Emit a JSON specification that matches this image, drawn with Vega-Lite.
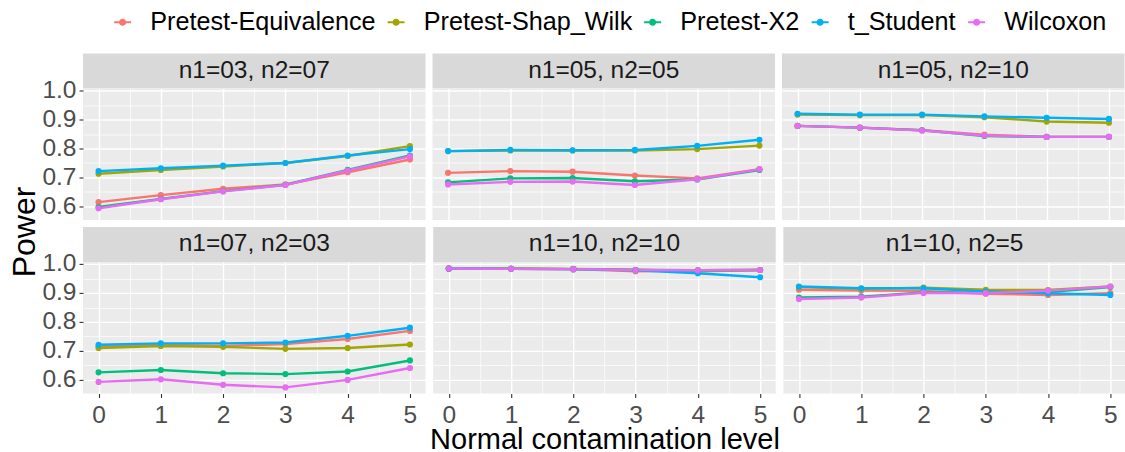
{
"$schema": "https://vega.github.io/schema/vega-lite/v6.json",
"padding": {"left": 8, "top": 9.5, "right": 0, "bottom": 0},
"background": "#ffffff",
"spacing": 6.4,
"title": {"text": "Power", "orient": "left", "anchor": "middle", "fontSize": 32, "fontWeight": "normal", "font": "Liberation Sans", "color": "#000000", "offset": 0},
"config": {
  "font": "Liberation Sans",
  "view": {"fill": "#ebebeb", "stroke": null},
  "axis": {"domain": false, "grid": true, "gridColor": "#ffffff", "tickColor": "#333333", "tickWidth": 1.1, "tickSize": 4, "labelFontSize": 24.5, "labelColor": "#4d4d4d", "labelFont": "Liberation Sans", "titleFont": "Liberation Sans", "titleFontWeight": "normal", "titleColor": "#000000", "titleFontSize": 29}
},
"datasets": {"power": [
{"panel":"n1=03, n2=07","test":"Pretest-Equivalence","level":0,"power":0.615},{"panel":"n1=03, n2=07","test":"Pretest-Equivalence","level":1,"power":0.639},{"panel":"n1=03, n2=07","test":"Pretest-Equivalence","level":2,"power":0.661},{"panel":"n1=03, n2=07","test":"Pretest-Equivalence","level":3,"power":0.676},{"panel":"n1=03, n2=07","test":"Pretest-Equivalence","level":4,"power":0.718},{"panel":"n1=03, n2=07","test":"Pretest-Equivalence","level":5,"power":0.762},
{"panel":"n1=03, n2=07","test":"Pretest-Shap_Wilk","level":0,"power":0.713},{"panel":"n1=03, n2=07","test":"Pretest-Shap_Wilk","level":1,"power":0.726},{"panel":"n1=03, n2=07","test":"Pretest-Shap_Wilk","level":2,"power":0.738},{"panel":"n1=03, n2=07","test":"Pretest-Shap_Wilk","level":3,"power":0.750},{"panel":"n1=03, n2=07","test":"Pretest-Shap_Wilk","level":4,"power":0.774},{"panel":"n1=03, n2=07","test":"Pretest-Shap_Wilk","level":5,"power":0.808},
{"panel":"n1=03, n2=07","test":"Pretest-X2","level":0,"power":0.598},{"panel":"n1=03, n2=07","test":"Pretest-X2","level":1,"power":0.626},{"panel":"n1=03, n2=07","test":"Pretest-X2","level":2,"power":0.653},{"panel":"n1=03, n2=07","test":"Pretest-X2","level":3,"power":0.675},{"panel":"n1=03, n2=07","test":"Pretest-X2","level":4,"power":0.726},{"panel":"n1=03, n2=07","test":"Pretest-X2","level":5,"power":0.776},
{"panel":"n1=03, n2=07","test":"t_Student","level":0,"power":0.722},{"panel":"n1=03, n2=07","test":"t_Student","level":1,"power":0.732},{"panel":"n1=03, n2=07","test":"t_Student","level":2,"power":0.741},{"panel":"n1=03, n2=07","test":"t_Student","level":3,"power":0.750},{"panel":"n1=03, n2=07","test":"t_Student","level":4,"power":0.776},{"panel":"n1=03, n2=07","test":"t_Student","level":5,"power":0.798},
{"panel":"n1=03, n2=07","test":"Wilcoxon","level":0,"power":0.594},{"panel":"n1=03, n2=07","test":"Wilcoxon","level":1,"power":0.625},{"panel":"n1=03, n2=07","test":"Wilcoxon","level":2,"power":0.652},{"panel":"n1=03, n2=07","test":"Wilcoxon","level":3,"power":0.674},{"panel":"n1=03, n2=07","test":"Wilcoxon","level":4,"power":0.724},{"panel":"n1=03, n2=07","test":"Wilcoxon","level":5,"power":0.773},

{"panel":"n1=05, n2=05","test":"Pretest-Equivalence","level":0,"power":0.716},{"panel":"n1=05, n2=05","test":"Pretest-Equivalence","level":1,"power":0.722},{"panel":"n1=05, n2=05","test":"Pretest-Equivalence","level":2,"power":0.720},{"panel":"n1=05, n2=05","test":"Pretest-Equivalence","level":3,"power":0.707},{"panel":"n1=05, n2=05","test":"Pretest-Equivalence","level":4,"power":0.697},{"panel":"n1=05, n2=05","test":"Pretest-Equivalence","level":5,"power":0.729},
{"panel":"n1=05, n2=05","test":"Pretest-Shap_Wilk","level":0,"power":0.791},{"panel":"n1=05, n2=05","test":"Pretest-Shap_Wilk","level":1,"power":0.793},{"panel":"n1=05, n2=05","test":"Pretest-Shap_Wilk","level":2,"power":0.793},{"panel":"n1=05, n2=05","test":"Pretest-Shap_Wilk","level":3,"power":0.793},{"panel":"n1=05, n2=05","test":"Pretest-Shap_Wilk","level":4,"power":0.798},{"panel":"n1=05, n2=05","test":"Pretest-Shap_Wilk","level":5,"power":0.810},
{"panel":"n1=05, n2=05","test":"Pretest-X2","level":0,"power":0.683},{"panel":"n1=05, n2=05","test":"Pretest-X2","level":1,"power":0.697},{"panel":"n1=05, n2=05","test":"Pretest-X2","level":2,"power":0.698},{"panel":"n1=05, n2=05","test":"Pretest-X2","level":3,"power":0.687},{"panel":"n1=05, n2=05","test":"Pretest-X2","level":4,"power":0.693},{"panel":"n1=05, n2=05","test":"Pretest-X2","level":5,"power":0.726},
{"panel":"n1=05, n2=05","test":"t_Student","level":0,"power":0.791},{"panel":"n1=05, n2=05","test":"t_Student","level":1,"power":0.795},{"panel":"n1=05, n2=05","test":"t_Student","level":2,"power":0.794},{"panel":"n1=05, n2=05","test":"t_Student","level":3,"power":0.795},{"panel":"n1=05, n2=05","test":"t_Student","level":4,"power":0.809},{"panel":"n1=05, n2=05","test":"t_Student","level":5,"power":0.830},
{"panel":"n1=05, n2=05","test":"Wilcoxon","level":0,"power":0.676},{"panel":"n1=05, n2=05","test":"Wilcoxon","level":1,"power":0.685},{"panel":"n1=05, n2=05","test":"Wilcoxon","level":2,"power":0.686},{"panel":"n1=05, n2=05","test":"Wilcoxon","level":3,"power":0.674},{"panel":"n1=05, n2=05","test":"Wilcoxon","level":4,"power":0.694},{"panel":"n1=05, n2=05","test":"Wilcoxon","level":5,"power":0.728},

{"panel":"n1=05, n2=10","test":"Pretest-Equivalence","level":0,"power":0.878},{"panel":"n1=05, n2=10","test":"Pretest-Equivalence","level":1,"power":0.872},{"panel":"n1=05, n2=10","test":"Pretest-Equivalence","level":2,"power":0.863},{"panel":"n1=05, n2=10","test":"Pretest-Equivalence","level":3,"power":0.848},{"panel":"n1=05, n2=10","test":"Pretest-Equivalence","level":4,"power":0.840},{"panel":"n1=05, n2=10","test":"Pretest-Equivalence","level":5,"power":0.840},
{"panel":"n1=05, n2=10","test":"Pretest-Shap_Wilk","level":0,"power":0.917},{"panel":"n1=05, n2=10","test":"Pretest-Shap_Wilk","level":1,"power":0.915},{"panel":"n1=05, n2=10","test":"Pretest-Shap_Wilk","level":2,"power":0.915},{"panel":"n1=05, n2=10","test":"Pretest-Shap_Wilk","level":3,"power":0.908},{"panel":"n1=05, n2=10","test":"Pretest-Shap_Wilk","level":4,"power":0.893},{"panel":"n1=05, n2=10","test":"Pretest-Shap_Wilk","level":5,"power":0.889},
{"panel":"n1=05, n2=10","test":"Pretest-X2","level":0,"power":0.878},{"panel":"n1=05, n2=10","test":"Pretest-X2","level":1,"power":0.872},{"panel":"n1=05, n2=10","test":"Pretest-X2","level":2,"power":0.863},{"panel":"n1=05, n2=10","test":"Pretest-X2","level":3,"power":0.843},{"panel":"n1=05, n2=10","test":"Pretest-X2","level":4,"power":0.840},{"panel":"n1=05, n2=10","test":"Pretest-X2","level":5,"power":0.840},
{"panel":"n1=05, n2=10","test":"t_Student","level":0,"power":0.920},{"panel":"n1=05, n2=10","test":"t_Student","level":1,"power":0.917},{"panel":"n1=05, n2=10","test":"t_Student","level":2,"power":0.917},{"panel":"n1=05, n2=10","test":"t_Student","level":3,"power":0.911},{"panel":"n1=05, n2=10","test":"t_Student","level":4,"power":0.906},{"panel":"n1=05, n2=10","test":"t_Student","level":5,"power":0.902},
{"panel":"n1=05, n2=10","test":"Wilcoxon","level":0,"power":0.878},{"panel":"n1=05, n2=10","test":"Wilcoxon","level":1,"power":0.872},{"panel":"n1=05, n2=10","test":"Wilcoxon","level":2,"power":0.862},{"panel":"n1=05, n2=10","test":"Wilcoxon","level":3,"power":0.845},{"panel":"n1=05, n2=10","test":"Wilcoxon","level":4,"power":0.840},{"panel":"n1=05, n2=10","test":"Wilcoxon","level":5,"power":0.840},

{"panel":"n1=07, n2=03","test":"Pretest-Equivalence","level":0,"power":0.715},{"panel":"n1=07, n2=03","test":"Pretest-Equivalence","level":1,"power":0.721},{"panel":"n1=07, n2=03","test":"Pretest-Equivalence","level":2,"power":0.717},{"panel":"n1=07, n2=03","test":"Pretest-Equivalence","level":3,"power":0.724},{"panel":"n1=07, n2=03","test":"Pretest-Equivalence","level":4,"power":0.741},{"panel":"n1=07, n2=03","test":"Pretest-Equivalence","level":5,"power":0.769},
{"panel":"n1=07, n2=03","test":"Pretest-Shap_Wilk","level":0,"power":0.710},{"panel":"n1=07, n2=03","test":"Pretest-Shap_Wilk","level":1,"power":0.717},{"panel":"n1=07, n2=03","test":"Pretest-Shap_Wilk","level":2,"power":0.714},{"panel":"n1=07, n2=03","test":"Pretest-Shap_Wilk","level":3,"power":0.707},{"panel":"n1=07, n2=03","test":"Pretest-Shap_Wilk","level":4,"power":0.710},{"panel":"n1=07, n2=03","test":"Pretest-Shap_Wilk","level":5,"power":0.722},
{"panel":"n1=07, n2=03","test":"Pretest-X2","level":0,"power":0.626},{"panel":"n1=07, n2=03","test":"Pretest-X2","level":1,"power":0.634},{"panel":"n1=07, n2=03","test":"Pretest-X2","level":2,"power":0.623},{"panel":"n1=07, n2=03","test":"Pretest-X2","level":3,"power":0.620},{"panel":"n1=07, n2=03","test":"Pretest-X2","level":4,"power":0.629},{"panel":"n1=07, n2=03","test":"Pretest-X2","level":5,"power":0.667},
{"panel":"n1=07, n2=03","test":"t_Student","level":0,"power":0.721},{"panel":"n1=07, n2=03","test":"t_Student","level":1,"power":0.726},{"panel":"n1=07, n2=03","test":"t_Student","level":2,"power":0.726},{"panel":"n1=07, n2=03","test":"t_Student","level":3,"power":0.729},{"panel":"n1=07, n2=03","test":"t_Student","level":4,"power":0.752},{"panel":"n1=07, n2=03","test":"t_Student","level":5,"power":0.780},
{"panel":"n1=07, n2=03","test":"Wilcoxon","level":0,"power":0.593},{"panel":"n1=07, n2=03","test":"Wilcoxon","level":1,"power":0.602},{"panel":"n1=07, n2=03","test":"Wilcoxon","level":2,"power":0.583},{"panel":"n1=07, n2=03","test":"Wilcoxon","level":3,"power":0.574},{"panel":"n1=07, n2=03","test":"Wilcoxon","level":4,"power":0.600},{"panel":"n1=07, n2=03","test":"Wilcoxon","level":5,"power":0.641},

{"panel":"n1=10, n2=10","test":"Pretest-Equivalence","level":0,"power":0.984},{"panel":"n1=10, n2=10","test":"Pretest-Equivalence","level":1,"power":0.983},{"panel":"n1=10, n2=10","test":"Pretest-Equivalence","level":2,"power":0.982},{"panel":"n1=10, n2=10","test":"Pretest-Equivalence","level":3,"power":0.975},{"panel":"n1=10, n2=10","test":"Pretest-Equivalence","level":4,"power":0.978},{"panel":"n1=10, n2=10","test":"Pretest-Equivalence","level":5,"power":0.979},
{"panel":"n1=10, n2=10","test":"Pretest-Shap_Wilk","level":0,"power":0.985},{"panel":"n1=10, n2=10","test":"Pretest-Shap_Wilk","level":1,"power":0.984},{"panel":"n1=10, n2=10","test":"Pretest-Shap_Wilk","level":2,"power":0.983},{"panel":"n1=10, n2=10","test":"Pretest-Shap_Wilk","level":3,"power":0.980},{"panel":"n1=10, n2=10","test":"Pretest-Shap_Wilk","level":4,"power":0.975},{"panel":"n1=10, n2=10","test":"Pretest-Shap_Wilk","level":5,"power":0.979},
{"panel":"n1=10, n2=10","test":"Pretest-X2","level":0,"power":0.983},{"panel":"n1=10, n2=10","test":"Pretest-X2","level":1,"power":0.983},{"panel":"n1=10, n2=10","test":"Pretest-X2","level":2,"power":0.982},{"panel":"n1=10, n2=10","test":"Pretest-X2","level":3,"power":0.979},{"panel":"n1=10, n2=10","test":"Pretest-X2","level":4,"power":0.978},{"panel":"n1=10, n2=10","test":"Pretest-X2","level":5,"power":0.979},
{"panel":"n1=10, n2=10","test":"t_Student","level":0,"power":0.984},{"panel":"n1=10, n2=10","test":"t_Student","level":1,"power":0.983},{"panel":"n1=10, n2=10","test":"t_Student","level":2,"power":0.982},{"panel":"n1=10, n2=10","test":"t_Student","level":3,"power":0.978},{"panel":"n1=10, n2=10","test":"t_Student","level":4,"power":0.968},{"panel":"n1=10, n2=10","test":"t_Student","level":5,"power":0.954},
{"panel":"n1=10, n2=10","test":"Wilcoxon","level":0,"power":0.984},{"panel":"n1=10, n2=10","test":"Wilcoxon","level":1,"power":0.983},{"panel":"n1=10, n2=10","test":"Wilcoxon","level":2,"power":0.982},{"panel":"n1=10, n2=10","test":"Wilcoxon","level":3,"power":0.979},{"panel":"n1=10, n2=10","test":"Wilcoxon","level":4,"power":0.978},{"panel":"n1=10, n2=10","test":"Wilcoxon","level":5,"power":0.979},

{"panel":"n1=10, n2=5","test":"Pretest-Equivalence","level":0,"power":0.911},{"panel":"n1=10, n2=5","test":"Pretest-Equivalence","level":1,"power":0.908},{"panel":"n1=10, n2=5","test":"Pretest-Equivalence","level":2,"power":0.907},{"panel":"n1=10, n2=5","test":"Pretest-Equivalence","level":3,"power":0.897},{"panel":"n1=10, n2=5","test":"Pretest-Equivalence","level":4,"power":0.893},{"panel":"n1=10, n2=5","test":"Pretest-Equivalence","level":5,"power":0.899},
{"panel":"n1=10, n2=5","test":"Pretest-Shap_Wilk","level":0,"power":0.920},{"panel":"n1=10, n2=5","test":"Pretest-Shap_Wilk","level":1,"power":0.914},{"panel":"n1=10, n2=5","test":"Pretest-Shap_Wilk","level":2,"power":0.918},{"panel":"n1=10, n2=5","test":"Pretest-Shap_Wilk","level":3,"power":0.911},{"panel":"n1=10, n2=5","test":"Pretest-Shap_Wilk","level":4,"power":0.910},{"panel":"n1=10, n2=5","test":"Pretest-Shap_Wilk","level":5,"power":0.922},
{"panel":"n1=10, n2=5","test":"Pretest-X2","level":0,"power":0.884},{"panel":"n1=10, n2=5","test":"Pretest-X2","level":1,"power":0.887},{"panel":"n1=10, n2=5","test":"Pretest-X2","level":2,"power":0.902},{"panel":"n1=10, n2=5","test":"Pretest-X2","level":3,"power":0.900},{"panel":"n1=10, n2=5","test":"Pretest-X2","level":4,"power":0.903},{"panel":"n1=10, n2=5","test":"Pretest-X2","level":5,"power":0.920},
{"panel":"n1=10, n2=5","test":"t_Student","level":0,"power":0.922},{"panel":"n1=10, n2=5","test":"t_Student","level":1,"power":0.916},{"panel":"n1=10, n2=5","test":"t_Student","level":2,"power":0.916},{"panel":"n1=10, n2=5","test":"t_Student","level":3,"power":0.905},{"panel":"n1=10, n2=5","test":"t_Student","level":4,"power":0.899},{"panel":"n1=10, n2=5","test":"t_Student","level":5,"power":0.893},
{"panel":"n1=10, n2=5","test":"Wilcoxon","level":0,"power":0.879},{"panel":"n1=10, n2=5","test":"Wilcoxon","level":1,"power":0.884},{"panel":"n1=10, n2=5","test":"Wilcoxon","level":2,"power":0.900},{"panel":"n1=10, n2=5","test":"Wilcoxon","level":3,"power":0.899},{"panel":"n1=10, n2=5","test":"Wilcoxon","level":4,"power":0.908},{"panel":"n1=10, n2=5","test":"Wilcoxon","level":5,"power":0.922}
]},
"vconcat": [
 {"spacing": 6.5, "hconcat": [
  {"bounds": "flush", "spacing": 0, "vconcat": [
   {"width": 342.5, "height": 35, "view": {"fill": "#d9d9d9", "stroke": null}, "data": {"name": "power"},
    "transform": [{"filter": "datum.panel === 'n1=03, n2=07'"}, {"aggregate": [{"op": "count", "as": "n"}], "groupby": ["panel"]}],
    "mark": {"type": "text", "fontSize": 24.5, "color": "#1a1a1a", "font": "Liberation Sans", "baseline": "middle", "align": "center"},
    "encoding": {"text": {"field": "panel"}}},
   {"width": 342.5, "height": 131.6, "data": {"name": "power"},
    "transform": [{"filter": "datum.panel === 'n1=03, n2=07'"}],
    "encoding": {
     "x": {"field": "level", "type": "quantitative", "scale": {"domain": [-0.25, 5.25], "nice": false, "zero": false},
       "axis": {"values": [0,0.5,1,1.5,2,2.5,3,3.5,4,4.5,5], "labels": false, "ticks": false, "title": null, "gridWidth": {"condition": {"test": "datum.value % 1 === 0", "value": 1.4}, "value": 0.7}}},
     "y": {"field": "power", "type": "quantitative", "scale": {"domain": [0.553, 1.007], "nice": false, "zero": false},
       "axis": {"values": [0.6,0.65,0.7,0.75,0.8,0.85,0.9,0.95,1.0], "labelExpr": "abs(datum.value*10 - round(datum.value*10)) < 0.001 ? format(datum.value, '.1f') : ''", "labelPadding": 3, "labelFlush": false, "labelOverlap": false,
         "gridWidth": {"condition": {"test": "abs(datum.value*10 - round(datum.value*10)) < 0.001", "value": 1.4}, "value": 0.7},
         "tickOpacity": {"condition": {"test": "abs(datum.value*10 - round(datum.value*10)) < 0.001", "value": 1}, "value": 0},
         "title": null}},
     "color": {"field": "test", "type": "nominal", "scale": {"domain": ["Pretest-Equivalence","Pretest-Shap_Wilk","Pretest-X2","t_Student","Wilcoxon"], "range": ["#F8766D","#A3A500","#00BF7D","#00B0F6","#E76BF3"]},
       "legend": {"title": null, "orient": "none", "direction": "horizontal", "legendX": 27, "legendY": -44, "labelFontSize": 25.2, "labelColor": "#000000", "labelFont": "Liberation Sans", "labelLimit": 0, "symbolType": "M-1,-0.12L1,-0.12L1,0.12L-1,0.12Z M-0.42,0A0.42,0.42 0 1,1 0.42,0A0.42,0.42 0 1,1 -0.42,0Z", "symbolSize": 289, "symbolStrokeWidth": 0, "symbolOpacity": 1, "labelOffset": 15, "columnPadding": 7.5}}
    },
    "layer": [{"mark": {"type": "line", "strokeWidth": 2.4}}, {"mark": {"type": "point", "filled": true, "size": 38, "opacity": 1}}]}
  ]},
  {"bounds": "flush", "spacing": 0, "vconcat": [
   {"width": 342.5, "height": 35, "view": {"fill": "#d9d9d9", "stroke": null}, "data": {"name": "power"},
    "transform": [{"filter": "datum.panel === 'n1=05, n2=05'"}, {"aggregate": [{"op": "count", "as": "n"}], "groupby": ["panel"]}],
    "mark": {"type": "text", "fontSize": 24.5, "color": "#1a1a1a", "font": "Liberation Sans", "baseline": "middle", "align": "center"},
    "encoding": {"text": {"field": "panel"}}},
   {"width": 342.5, "height": 131.6, "data": {"name": "power"},
    "transform": [{"filter": "datum.panel === 'n1=05, n2=05'"}],
    "encoding": {
     "x": {"field": "level", "type": "quantitative", "scale": {"domain": [-0.25, 5.25], "nice": false, "zero": false},
       "axis": {"values": [0,0.5,1,1.5,2,2.5,3,3.5,4,4.5,5], "labels": false, "ticks": false, "title": null, "gridWidth": {"condition": {"test": "datum.value % 1 === 0", "value": 1.4}, "value": 0.7}}},
     "y": {"field": "power", "type": "quantitative", "scale": {"domain": [0.553, 1.007], "nice": false, "zero": false},
       "axis": {"values": [0.6,0.65,0.7,0.75,0.8,0.85,0.9,0.95,1.0], "labels": false, "ticks": false, "title": null,
         "gridWidth": {"condition": {"test": "abs(datum.value*10 - round(datum.value*10)) < 0.001", "value": 1.4}, "value": 0.7}}},
     "color": {"field": "test", "type": "nominal", "scale": {"domain": ["Pretest-Equivalence","Pretest-Shap_Wilk","Pretest-X2","t_Student","Wilcoxon"], "range": ["#F8766D","#A3A500","#00BF7D","#00B0F6","#E76BF3"]}, "legend": null}
    },
    "layer": [{"mark": {"type": "line", "strokeWidth": 2.4}}, {"mark": {"type": "point", "filled": true, "size": 38, "opacity": 1}}]}
  ]},
  {"bounds": "flush", "spacing": 0, "vconcat": [
   {"width": 342.5, "height": 35, "view": {"fill": "#d9d9d9", "stroke": null}, "data": {"name": "power"},
    "transform": [{"filter": "datum.panel === 'n1=05, n2=10'"}, {"aggregate": [{"op": "count", "as": "n"}], "groupby": ["panel"]}],
    "mark": {"type": "text", "fontSize": 24.5, "color": "#1a1a1a", "font": "Liberation Sans", "baseline": "middle", "align": "center"},
    "encoding": {"text": {"field": "panel"}}},
   {"width": 342.5, "height": 131.6, "data": {"name": "power"},
    "transform": [{"filter": "datum.panel === 'n1=05, n2=10'"}],
    "encoding": {
     "x": {"field": "level", "type": "quantitative", "scale": {"domain": [-0.25, 5.25], "nice": false, "zero": false},
       "axis": {"values": [0,0.5,1,1.5,2,2.5,3,3.5,4,4.5,5], "labels": false, "ticks": false, "title": null, "gridWidth": {"condition": {"test": "datum.value % 1 === 0", "value": 1.4}, "value": 0.7}}},
     "y": {"field": "power", "type": "quantitative", "scale": {"domain": [0.553, 1.007], "nice": false, "zero": false},
       "axis": {"values": [0.6,0.65,0.7,0.75,0.8,0.85,0.9,0.95,1.0], "labels": false, "ticks": false, "title": null,
         "gridWidth": {"condition": {"test": "abs(datum.value*10 - round(datum.value*10)) < 0.001", "value": 1.4}, "value": 0.7}}},
     "color": {"field": "test", "type": "nominal", "scale": {"domain": ["Pretest-Equivalence","Pretest-Shap_Wilk","Pretest-X2","t_Student","Wilcoxon"], "range": ["#F8766D","#A3A500","#00BF7D","#00B0F6","#E76BF3"]}, "legend": null}
    },
    "layer": [{"mark": {"type": "line", "strokeWidth": 2.4}}, {"mark": {"type": "point", "filled": true, "size": 38, "opacity": 1}}]}
  ]}
 ]},
 {"spacing": 3.2, "hconcat": [
  {"bounds": "flush", "spacing": 0, "vconcat": [
   {"width": 342.5, "height": 35, "view": {"fill": "#d9d9d9", "stroke": null}, "data": {"name": "power"},
    "transform": [{"filter": "datum.panel === 'n1=07, n2=03'"}, {"aggregate": [{"op": "count", "as": "n"}], "groupby": ["panel"]}],
    "mark": {"type": "text", "fontSize": 24.5, "color": "#1a1a1a", "font": "Liberation Sans", "baseline": "middle", "align": "center"},
    "encoding": {"text": {"field": "panel"}}},
   {"width": 342.5, "height": 131.6, "data": {"name": "power"},
    "transform": [{"filter": "datum.panel === 'n1=07, n2=03'"}],
    "encoding": {
     "x": {"field": "level", "type": "quantitative", "scale": {"domain": [-0.25, 5.25], "nice": false, "zero": false},
       "axis": {"values": [0,0.5,1,1.5,2,2.5,3,3.5,4,4.5,5], "labelExpr": "datum.value % 1 === 0 ? format(datum.value, 'd') : ''", "labelPadding": 6, "labelAngle": 0, "labelFlush": false, "labelOverlap": false, "title": null,
         "gridWidth": {"condition": {"test": "datum.value % 1 === 0", "value": 1.4}, "value": 0.7},
         "tickOpacity": {"condition": {"test": "datum.value % 1 === 0", "value": 1}, "value": 0}}},
     "y": {"field": "power", "type": "quantitative", "scale": {"domain": [0.553, 1.007], "nice": false, "zero": false},
       "axis": {"values": [0.6,0.65,0.7,0.75,0.8,0.85,0.9,0.95,1.0], "labelExpr": "abs(datum.value*10 - round(datum.value*10)) < 0.001 ? format(datum.value, '.1f') : ''", "labelPadding": 3, "labelFlush": false, "labelOverlap": false,
         "gridWidth": {"condition": {"test": "abs(datum.value*10 - round(datum.value*10)) < 0.001", "value": 1.4}, "value": 0.7},
         "tickOpacity": {"condition": {"test": "abs(datum.value*10 - round(datum.value*10)) < 0.001", "value": 1}, "value": 0},
         "title": null}},
     "color": {"field": "test", "type": "nominal", "scale": {"domain": ["Pretest-Equivalence","Pretest-Shap_Wilk","Pretest-X2","t_Student","Wilcoxon"], "range": ["#F8766D","#A3A500","#00BF7D","#00B0F6","#E76BF3"]}, "legend": null}
    },
    "layer": [{"mark": {"type": "line", "strokeWidth": 2.4}}, {"mark": {"type": "point", "filled": true, "size": 38, "opacity": 1}}]}
  ]},
  {"bounds": "flush", "spacing": 0, "vconcat": [
   {"width": 342.5, "height": 35, "view": {"fill": "#d9d9d9", "stroke": null}, "data": {"name": "power"},
    "transform": [{"filter": "datum.panel === 'n1=10, n2=10'"}, {"aggregate": [{"op": "count", "as": "n"}], "groupby": ["panel"]}],
    "mark": {"type": "text", "fontSize": 24.5, "color": "#1a1a1a", "font": "Liberation Sans", "baseline": "middle", "align": "center"},
    "encoding": {"text": {"field": "panel"}}},
   {"width": 342.5, "height": 131.6, "data": {"name": "power"},
    "transform": [{"filter": "datum.panel === 'n1=10, n2=10'"}],
    "encoding": {
     "x": {"field": "level", "type": "quantitative", "scale": {"domain": [-0.25, 5.25], "nice": false, "zero": false},
       "axis": {"values": [0,0.5,1,1.5,2,2.5,3,3.5,4,4.5,5], "labelExpr": "datum.value % 1 === 0 ? format(datum.value, 'd') : ''", "labelPadding": 6, "labelAngle": 0, "labelFlush": false, "labelOverlap": false,
         "gridWidth": {"condition": {"test": "datum.value % 1 === 0", "value": 1.4}, "value": 0.7},
         "tickOpacity": {"condition": {"test": "datum.value % 1 === 0", "value": 1}, "value": 0},
         "title": "Normal contamination level", "titleBaseline": "alphabetic", "titleY": 55}},
     "y": {"field": "power", "type": "quantitative", "scale": {"domain": [0.553, 1.007], "nice": false, "zero": false},
       "axis": {"values": [0.6,0.65,0.7,0.75,0.8,0.85,0.9,0.95,1.0], "labels": false, "ticks": false, "title": null,
         "gridWidth": {"condition": {"test": "abs(datum.value*10 - round(datum.value*10)) < 0.001", "value": 1.4}, "value": 0.7}}},
     "color": {"field": "test", "type": "nominal", "scale": {"domain": ["Pretest-Equivalence","Pretest-Shap_Wilk","Pretest-X2","t_Student","Wilcoxon"], "range": ["#F8766D","#A3A500","#00BF7D","#00B0F6","#E76BF3"]}, "legend": null}
    },
    "layer": [{"mark": {"type": "line", "strokeWidth": 2.4}}, {"mark": {"type": "point", "filled": true, "size": 38, "opacity": 1}}]}
  ]},
  {"bounds": "flush", "spacing": 0, "vconcat": [
   {"width": 342.5, "height": 35, "view": {"fill": "#d9d9d9", "stroke": null}, "data": {"name": "power"},
    "transform": [{"filter": "datum.panel === 'n1=10, n2=5'"}, {"aggregate": [{"op": "count", "as": "n"}], "groupby": ["panel"]}],
    "mark": {"type": "text", "fontSize": 24.5, "color": "#1a1a1a", "font": "Liberation Sans", "baseline": "middle", "align": "center"},
    "encoding": {"text": {"field": "panel"}}},
   {"width": 342.5, "height": 131.6, "data": {"name": "power"},
    "transform": [{"filter": "datum.panel === 'n1=10, n2=5'"}],
    "encoding": {
     "x": {"field": "level", "type": "quantitative", "scale": {"domain": [-0.25, 5.25], "nice": false, "zero": false},
       "axis": {"values": [0,0.5,1,1.5,2,2.5,3,3.5,4,4.5,5], "labelExpr": "datum.value % 1 === 0 ? format(datum.value, 'd') : ''", "labelPadding": 6, "labelAngle": 0, "labelFlush": false, "labelOverlap": false, "title": null,
         "gridWidth": {"condition": {"test": "datum.value % 1 === 0", "value": 1.4}, "value": 0.7},
         "tickOpacity": {"condition": {"test": "datum.value % 1 === 0", "value": 1}, "value": 0}}},
     "y": {"field": "power", "type": "quantitative", "scale": {"domain": [0.553, 1.007], "nice": false, "zero": false},
       "axis": {"values": [0.6,0.65,0.7,0.75,0.8,0.85,0.9,0.95,1.0], "labels": false, "ticks": false, "title": null,
         "gridWidth": {"condition": {"test": "abs(datum.value*10 - round(datum.value*10)) < 0.001", "value": 1.4}, "value": 0.7}}},
     "color": {"field": "test", "type": "nominal", "scale": {"domain": ["Pretest-Equivalence","Pretest-Shap_Wilk","Pretest-X2","t_Student","Wilcoxon"], "range": ["#F8766D","#A3A500","#00BF7D","#00B0F6","#E76BF3"]}, "legend": null}
    },
    "layer": [{"mark": {"type": "line", "strokeWidth": 2.4}}, {"mark": {"type": "point", "filled": true, "size": 38, "opacity": 1}}]}
  ]}
 ]}
]
}
